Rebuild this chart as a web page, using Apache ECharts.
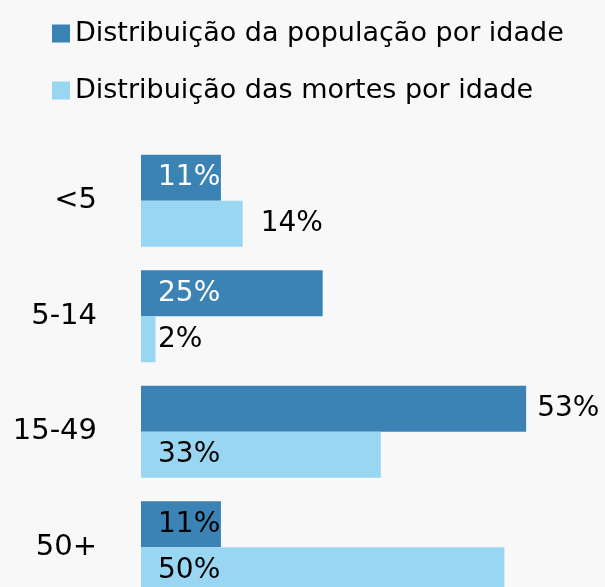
<!DOCTYPE html>
<html>
<head>
<meta charset="utf-8">
<script src="https://cdn.jsdelivr.net/npm/echarts@6/dist/echarts.min.js"></script>
<style>
  html, body { margin: 0; padding: 0; overflow: hidden; }
  /* o gráfico original corta a última barra em baixo, por isso a área é maior que a janela */
  #chart { width: 605px; height: 620px; }
</style>
</head>
<body>
<div id="chart"></div>
<script>
// faixas etárias
const categories = ['<5', '5-14', '15-49', '50+'];
// % da população por idade
const populacao = [11, 25, 53, 11];
// % das mortes por idade
const mortes = [14, 2, 33, 50];
const seriesNames = ['Distribuição da população por idade', 'Distribuição das mortes por idade'];

const FONT = 'DejaVu Sans';

// posição dos rótulos de cada barra (ajustado à mão, como no original)
const labelPop = [
  { position: 'insideLeft', color: '#fff' },
  { position: 'insideLeft', color: '#fff' },
  { position: 'right', color: '#000', distance: 11 },
  { position: 'insideLeft', color: '#000' }
];
const labelMortes = [
  { position: 'right', color: '#000', distance: 18 },
  { position: 'insideLeft', color: '#000' },
  { position: 'insideLeft', color: '#000' },
  { position: 'insideLeft', color: '#000' }
];

const chart = echarts.init(document.getElementById('chart'));

const barConfig = {
  type: 'bar',
  barWidth: 46,
  barGap: 0,
  label: {
    show: true,
    formatter: '{c}%',
    fontFamily: FONT,
    fontSize: 28,
    distance: 17
  }
};

chart.setOption({
  animation: false,
  backgroundColor: '#f8f8f8',
  color: ['#3b83b5', '#98d6f2'],
  legend: {
    orient: 'vertical',
    left: 47,
    top: 15,
    itemWidth: 18,
    itemHeight: 18,
    itemGap: 30,
    icon: 'rect',
    textStyle: {
      fontFamily: FONT,
      fontSize: 27,
      color: '#000'
    },
    data: seriesNames
  },
  grid: {
    left: 141,
    top: 143,
    width: 436,
    height: 462
  },
  xAxis: {
    type: 'value',
    min: 0,
    max: 60,
    show: false
  },
  yAxis: {
    type: 'category',
    inverse: true,
    data: categories,
    axisLine: { show: false },
    axisTick: { show: false },
    axisLabel: {
      margin: 44,
      fontFamily: FONT,
      fontSize: 29,
      color: '#000'
    }
  },
  series: [
    {
      ...barConfig,
      name: seriesNames[0],
      data: populacao.map((v, i) => ({ value: v, label: labelPop[i] }))
    },
    {
      ...barConfig,
      name: seriesNames[1],
      data: mortes.map((v, i) => ({ value: v, label: labelMortes[i] }))
    }
  ]
});
</script>
</body>
</html>
